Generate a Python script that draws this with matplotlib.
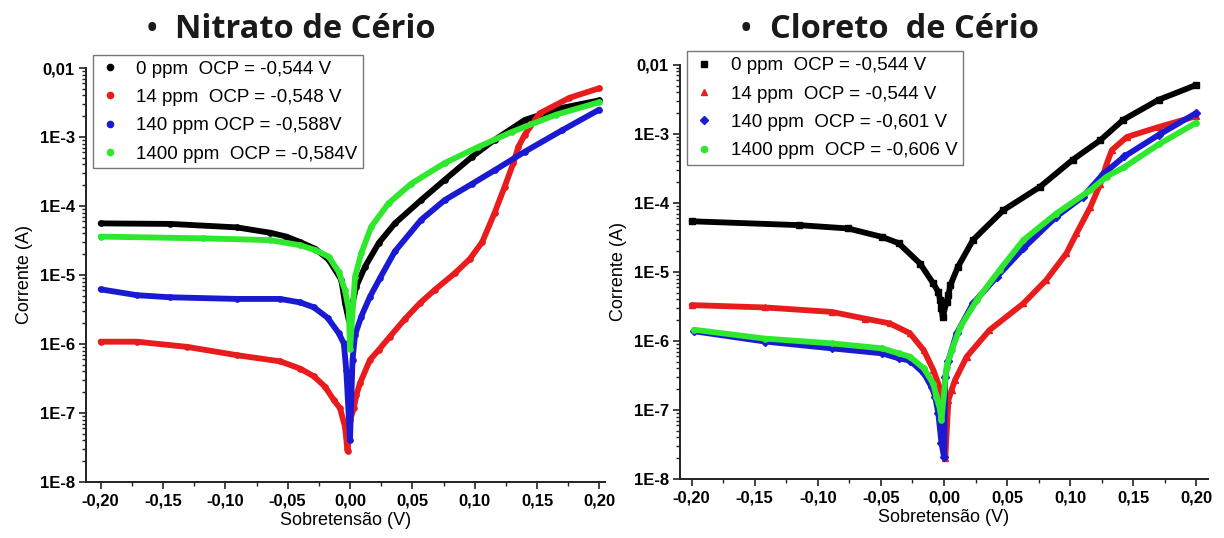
import matplotlib
matplotlib.use("Agg")
import matplotlib.pyplot as plt
from matplotlib.lines import Line2D
from matplotlib.ticker import FixedLocator, LogLocator, NullFormatter

# ---- Nitrato de Cerio (left) ----
nit_v_0 = [-0.200, -0.144, -0.091, -0.064, -0.051, -0.040, -0.028, -0.017, -0.007, -0.004, -0.001,
           0.005, 0.012, 0.023, 0.036, 0.057, 0.076, 0.098, 0.116, 0.140, 0.168, 0.200]
nit_i_0 = [5.6e-5, 5.5e-5, 4.9e-5, 4.1e-5, 3.6e-5, 3.0e-5, 2.4e-5, 1.66e-5, 8.5e-6, 3.9e-6, 2.2e-6,
           6.8e-6, 1.32e-5, 2.9e-5, 5.6e-5, 1.22e-4, 2.4e-4, 5.2e-4, 9.1e-4, 1.76e-3, 2.6e-3, 3.4e-3]

nit_v_14 = [-0.200, -0.171, -0.131, -0.091, -0.056, -0.040, -0.029, -0.020, -0.013, -0.008, -0.004,
            -0.002, 0.000, 0.003, 0.005, 0.008, 0.016, 0.023, 0.032, 0.044, 0.056, 0.068, 0.084,
            0.096, 0.106, 0.116, 0.124, 0.131, 0.135, 0.140, 0.152, 0.176, 0.200]
nit_i_14 = [1.08e-6, 1.08e-6, 9.1e-7, 6.9e-7, 5.6e-7, 4.4e-7, 3.4e-7, 2.4e-7, 1.54e-7, 1.17e-7, 6.3e-8,
            2.8e-8, 7.9e-8, 1.17e-7, 1.8e-7, 2.7e-7, 5.9e-7, 8.2e-7, 1.28e-6, 2.3e-6, 3.9e-6, 6.1e-6, 1.06e-5,
            1.7e-5, 3.0e-5, 8.0e-5, 1.9e-4, 4.2e-4, 7.2e-4, 1.07e-3, 2.2e-3, 3.7e-3, 5.1e-3]

nit_v_140 = [-0.200, -0.171, -0.144, -0.091, -0.056, -0.040, -0.029, -0.018, -0.009, -0.005, -0.003,
             0.000, 0.002, 0.004, 0.009, 0.016, 0.024, 0.036, 0.057, 0.076, 0.098, 0.116,
             0.140, 0.170, 0.200]
nit_i_140 = [6.2e-6, 5.1e-6, 4.75e-6, 4.5e-6, 4.5e-6, 4.0e-6, 3.4e-6, 2.4e-6, 1.43e-6, 1.02e-6, 4.2e-7,
             4.1e-8, 5.9e-7, 1.35e-6, 2.5e-6, 4.85e-6, 9.0e-6, 2.2e-5, 6.3e-5, 1.22e-4, 2.1e-4, 3.3e-4,
             6.1e-4, 1.25e-3, 2.5e-3]

nit_v_1400 = [-0.200, -0.118, -0.064, -0.040, -0.028, -0.017, -0.009, -0.004, -0.001, 0.000, 0.004,
              0.009, 0.017, 0.031, 0.049, 0.076, 0.103, 0.130, 0.165, 0.200]
nit_i_1400 = [3.6e-5, 3.4e-5, 3.2e-5, 2.7e-5, 2.3e-5, 1.84e-5, 1.1e-5, 6.0e-6, 3.1e-6, 8.5e-7, 9.4e-6,
              2.06e-5, 5.0e-5, 1.1e-4, 2.1e-4, 4.2e-4, 7.2e-4, 1.19e-3, 2.1e-3, 3.2e-3]

# ---- Cloreto de Cerio (right) ----
clo_v_0 = [-0.200, -0.115, -0.076, -0.049, -0.036, -0.019, -0.0085, -0.0045, -0.003, -0.002,
           -0.001, 0.002, 0.0035, 0.005, 0.011, 0.023, 0.047, 0.076, 0.102, 0.124, 0.142, 0.170, 0.200]
clo_i_0 = [5.4e-5, 4.75e-5, 4.25e-5, 3.2e-5, 2.6e-5, 1.32e-5, 6.8e-6, 5.1e-6, 3.9e-6, 2.95e-6,
           2.2e-6, 3.7e-6, 4.6e-6, 6.4e-6, 1.18e-5, 2.9e-5, 7.8e-5, 1.7e-4, 4.2e-4, 8.1e-4, 1.59e-3,
           3.1e-3, 5.1e-3]

clo_v_14 = [-0.200, -0.142, -0.089, -0.063, -0.043, -0.027, -0.016, -0.0085, -0.0045, -0.001,
            0.000, 0.001, 0.0035, 0.006, 0.0087, 0.018, 0.036, 0.063, 0.081, 0.097, 0.105, 0.116,
            0.124, 0.129, 0.133, 0.145, 0.170, 0.200]
clo_i_14 = [3.3e-6, 3.05e-6, 2.63e-6, 2.11e-6, 1.79e-6, 1.29e-6, 7.3e-7, 3.8e-7, 2.4e-7, 1.55e-7,
            1.1e-7, 2.0e-8, 1.38e-7, 1.95e-7, 2.7e-7, 5.9e-7, 1.43e-6, 3.5e-6, 7.6e-6, 1.85e-5, 3.6e-5,
            8.7e-5, 1.9e-4, 3.7e-4, 5.8e-4, 9.0e-4, 1.25e-3, 1.8e-3]

clo_v_140 = [-0.198, -0.142, -0.089, -0.049, -0.036, -0.027, -0.016, -0.0098, -0.007, -0.0045,
             -0.002, 0.000, 0.001, 0.0035, 0.010, 0.023, 0.042, 0.063, 0.089, 0.110, 0.126, 0.143,
             0.170, 0.200]
clo_i_140 = [1.38e-6, 9.8e-7, 7.8e-7, 6.6e-7, 5.6e-7, 5.2e-7, 3.4e-7, 2.15e-7, 1.55e-7, 8.9e-8,
             3.3e-8, 2.1e-8, 3.0e-7, 5.2e-7, 1.28e-6, 3.5e-6, 8.5e-6, 2.2e-5, 6.3e-5, 1.22e-4, 2.6e-4,
             4.7e-4, 9.6e-4, 2.0e-3]

clo_v_1400 = [-0.198, -0.142, -0.089, -0.049, -0.036, -0.027, -0.016, -0.0085, -0.006, -0.003,
              -0.002, 0.002, 0.006, 0.013, 0.026, 0.044, 0.063, 0.089, 0.116, 0.129, 0.143, 0.170, 0.200]
clo_i_1400 = [1.45e-6, 1.08e-6, 9.2e-7, 7.8e-7, 6.6e-7, 5.9e-7, 4.0e-7, 2.4e-7, 1.55e-7, 1.0e-7,
              7.1e-8, 4.2e-7, 7.3e-7, 1.6e-6, 3.9e-6, 1.06e-5, 2.9e-5, 7.0e-5, 1.53e-4, 2.4e-4, 3.3e-4,
              7.0e-4, 1.45e-3]

nit_labels = ["0 ppm  OCP = -0,544 V", "14 ppm  OCP = -0,548 V",
              "140 ppm OCP = -0,588V", "1400 ppm  OCP = -0,584V"]
clo_labels = ["0 ppm  OCP = -0,544 V", "14 ppm  OCP = -0,544 V",
              "140 ppm  OCP = -0,601 V", "1400 ppm  OCP = -0,606 V"]

colors = ["#000000", "#e81c1c", "#1a1ad2", "#2ee82e"]
nit_markers = ["o", "o", "o", "o"]
clo_markers = ["s", "^", "D", "o"]

xticks = [-0.20, -0.15, -0.10, -0.05, 0.00, 0.05, 0.10, 0.15, 0.20]
xticklabels = ["-0,20", "-0,15", "-0,10", "-0,05", "0,00", "0,05", "0,10", "0,15", "0,20"]
yticks = [1e-8, 1e-7, 1e-6, 1e-5, 1e-4, 1e-3, 1e-2]
yticklabels = ["1E-8", "1E-7", "1E-6", "1E-5", "1E-4", "1E-3", "0,01"]

plt.rcParams['font.family'] = ['Liberation Sans', 'DejaVu Sans']

fig = plt.figure(figsize=(12.24, 5.38), dpi=100)
ax1 = fig.add_axes([0.0703, 0.1041, 0.4240, 0.7695])
ax2 = fig.add_axes([0.5556, 0.1097, 0.4313, 0.7700])


def style_axes(ax, xlim):
    ax.set_yscale('log')
    ax.set_ylim(1e-8, 1e-2)
    ax.set_xlim(*xlim)
    ax.spines['top'].set_visible(False)
    ax.spines['right'].set_visible(False)
    for s in ('left', 'bottom'):
        ax.spines[s].set_linewidth(1.4)
        ax.spines[s].set_color('#222222')
    ax.xaxis.set_major_locator(FixedLocator(xticks))
    ax.set_xticklabels(xticklabels)
    ax.xaxis.set_minor_locator(FixedLocator([-0.175, -0.125, -0.075, -0.025, 0.025, 0.075, 0.125, 0.175]))
    ax.yaxis.set_major_locator(FixedLocator(yticks))
    ax.set_yticklabels(yticklabels)
    ax.yaxis.set_minor_locator(LogLocator(base=10, subs=range(2, 10)))
    ax.yaxis.set_minor_formatter(NullFormatter())
    ax.tick_params(which='major', direction='out', length=5, width=1.2, color='#222222',
                   labelsize=12, pad=3)
    ax.tick_params(which='minor', direction='out', length=3, width=1.0, color='#222222')
    for lab in ax.get_xticklabels() + ax.get_yticklabels():
        lab.set_fontweight('bold')
    ax.set_xlabel("Sobretensão (V)", fontsize=13, labelpad=3)
    ax.set_ylabel("Corrente (A)", fontsize=13, labelpad=5)


def draw(ax, series, markers, labels):
    for (v, i), c, m in zip(series, colors, markers):
        ax.plot(v, i, color=c, lw=4.2, marker=m, ms=3.8, mec=c, mfc=c,
                solid_capstyle='round', solid_joinstyle='round')
    handles = [Line2D([], [], ls='none', marker=m, color=c, ms=4.5)
               for c, m in zip(colors, markers)]
    leg = ax.legend(handles, labels, loc='upper left', bbox_to_anchor=(0.014, 1.032),
                    borderaxespad=0, fontsize=13.5, frameon=True, fancybox=False,
                    handlelength=1.2, handletextpad=0.8, labelspacing=0.6,
                    borderpad=0.3)
    leg.get_frame().set_edgecolor('#555555')
    leg.get_frame().set_linewidth(1.0)


style_axes(ax1, (-0.2117, 0.2045))
style_axes(ax2, (-0.2092, 0.2092))

draw(ax1, [(nit_v_0, nit_i_0), (nit_v_14, nit_i_14), (nit_v_140, nit_i_140),
           (nit_v_1400, nit_i_1400)], nit_markers, nit_labels)
draw(ax2, [(clo_v_0, clo_i_0), (clo_v_14, clo_i_14), (clo_v_140, clo_i_140),
           (clo_v_1400, clo_i_1400)], clo_markers, clo_labels)

title_font = ['Open Sans', 'DejaVu Sans']
fig.text(0.124, 0.945, "•", ha='center', va='center', fontsize=20, fontweight='bold',
         family=title_font, color='#1a1a1a')
fig.text(0.143, 0.945, "Nitrato de Cério", ha='left', va='center',
         fontsize=23.5, fontweight='bold', family=title_font, color='#1a1a1a')
fig.text(0.609, 0.945, "•", ha='center', va='center', fontsize=20, fontweight='bold',
         family=title_font, color='#1a1a1a')
fig.text(0.629, 0.945, "Cloreto  de Cério", ha='left', va='center',
         fontsize=23.5, fontweight='bold', family=title_font, color='#1a1a1a')

fig.savefig("out.png", dpi=100)
